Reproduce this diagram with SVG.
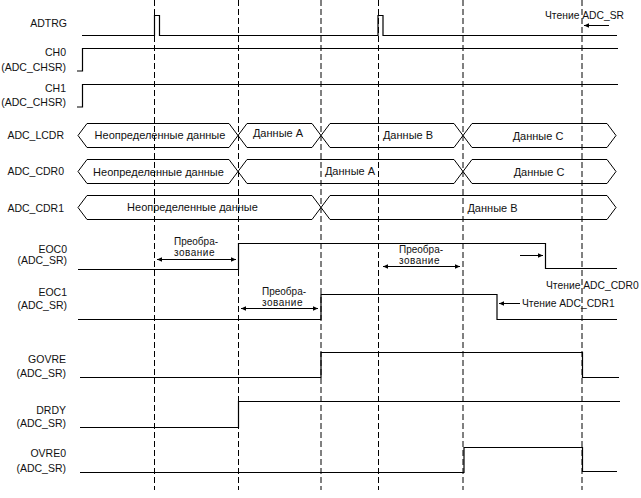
<svg xmlns="http://www.w3.org/2000/svg" width="641" height="498" viewBox="0 0 641 498">
<style>
text{font-family:"Liberation Sans",Arial,sans-serif;font-size:11px;fill:#111}
.lbl{text-anchor:end;font-size:10.5px}
.c{text-anchor:middle}
.ann{font-size:10px}
.rd{font-size:10.3px}
.sig{fill:none;stroke:#000;stroke-width:1.2}
.bus{fill:#fff;stroke:#000;stroke-width:1}
.dash{stroke:#000;stroke-width:1;stroke-dasharray:6 3}
.arr{stroke:#000;stroke-width:1;fill:none}
</style>
<defs>
<marker id="ah" markerWidth="6" markerHeight="6" refX="5" refY="3" orient="auto" markerUnits="userSpaceOnUse">
<path d="M0,0.8 L5,3 L0,5.2 Z" fill="#000"/>
</marker>
<marker id="as" markerWidth="6" markerHeight="6" refX="0" refY="3" orient="auto" markerUnits="userSpaceOnUse">
<path d="M5,0.8 L0,3 L5,5.2 Z" fill="#000"/>
</marker>
</defs>
<rect width="641" height="498" fill="#fff"/>

<g id="labels">
<text class="lbl" x="67" y="27">ADTRG</text>
<text class="lbl" x="66" y="56">CH0</text>
<text class="lbl" x="66" y="71">(ADC_CHSR)</text>
<text class="lbl" x="66" y="92">CH1</text>
<text class="lbl" x="66" y="106">(ADC_CHSR)</text>
<text class="lbl" x="64" y="139">ADC_LCDR</text>
<text class="lbl" x="64" y="175">ADC_CDR0</text>
<text class="lbl" x="64" y="212">ADC_CDR1</text>
<text class="lbl" x="67" y="253">EOC0</text>
<text class="lbl" x="67" y="264">(ADC_SR)</text>
<text class="lbl" x="67" y="296">EOC1</text>
<text class="lbl" x="67" y="309">(ADC_SR)</text>
<text class="lbl" x="66" y="363">GOVRE</text>
<text class="lbl" x="66" y="377">(ADC_SR)</text>
<text class="lbl" x="66" y="414">DRDY</text>
<text class="lbl" x="66" y="427">(ADC_SR)</text>
<text class="lbl" x="66" y="457">OVRE0</text>
<text class="lbl" x="66" y="472">(ADC_SR)</text>
</g>

<g id="bus-lcdr">
<path class="bus" d="M78,135.5 L87,123.5 L229,123.5 L238,135.5 L229,147.5 L87,147.5 Z"/>
<path class="bus" d="M238,135.5 L247,123.5 L312,123.5 L321,135.5 L312,147.5 L247,147.5 Z"/>
<path class="bus" d="M321,135.5 L330,123.5 L454,123.5 L463,135.5 L454,147.5 L330,147.5 Z"/>
<path class="bus" d="M463,135.5 L472,123.5 L607,123.5 L616,135.5 L607,147.5 L472,147.5 Z"/>
<text class="c" x="160" y="139">Неопределенные данные</text>
<text class="c" x="278" y="137">Данные A</text>
<text class="c" x="408" y="139">Данные B</text>
<text class="c" x="538" y="140">Данные C</text>
</g>

<g id="bus-cdr0">
<path class="bus" d="M78,171.5 L87,159.5 L229,159.5 L238,171.5 L229,183.5 L87,183.5 Z"/>
<path class="bus" d="M238,171.5 L247,159.5 L454,159.5 L463,171.5 L454,183.5 L247,183.5 Z"/>
<path class="bus" d="M463,171.5 L472,159.5 L607,159.5 L616,171.5 L607,183.5 L472,183.5 Z"/>
<text class="c" x="158.5" y="176">Неопределенные данные</text>
<text class="c" x="350" y="175">Данные A</text>
<text class="c" x="539" y="176">Данные C</text>
</g>

<g id="bus-cdr1">
<path class="bus" d="M78,207.5 L87,195.5 L312,195.5 L321,207.5 L312,219.5 L87,219.5 Z"/>
<path class="bus" d="M321,207.5 L330,195.5 L607,195.5 L616,207.5 L607,219.5 L330,219.5 Z"/>
<text class="c" x="192.5" y="211">Неопределенные данные</text>
<text class="c" x="492.5" y="212">Данные B</text>
</g>

<g id="signals">
<path id="adtrg" class="sig" d="M82,35.5 H154.5 V15.5 H159.5 V35.5 H378 V15.5 H383 V35.5 H617"/>
<path id="ch0" class="sig" d="M77,71 H82.5 V48.5 H618"/>
<path id="ch1" class="sig" d="M77,107 H82.5 V84.5 H618"/>
<path id="eoc0" class="sig" d="M78,269.5 H238.5 V243.5 H545.5 V268.5 H617"/>
<path id="eoc1" class="sig" d="M78,319.5 H321 V294.5 H497 V319.5 H617"/>
<path id="govre" class="sig" d="M80,377.5 H321 V352.5 H582.5 V377.5 H619"/>
<path id="drdy" class="sig" d="M80,427.5 H238.5 V401.5 H620"/>
<path id="ovre0" class="sig" d="M80,472.5 H464 V447.5 H582.5 V471.5 H617"/>
</g>

<g id="connectors">
<line class="dash" x1="154.5" y1="0" x2="154.5" y2="490"/>
<line class="dash" x1="238.5" y1="0" x2="238.5" y2="490"/>
<line class="dash" x1="321" y1="0" x2="321" y2="490"/>
<line class="dash" x1="378.5" y1="0" x2="378.5" y2="490"/>
<line class="dash" x1="463" y1="0" x2="463" y2="490"/>
<line class="dash" x1="582" y1="0" x2="582" y2="490"/>

<line class="arr" x1="157" y1="259.5" x2="236" y2="259.5" marker-start="url(#as)" marker-end="url(#ah)"/>
<line class="arr" x1="383" y1="266.5" x2="460" y2="266.5" marker-start="url(#as)" marker-end="url(#ah)"/>
<line class="arr" x1="241" y1="308.5" x2="318" y2="308.5" marker-start="url(#as)" marker-end="url(#ah)"/>
<line class="arr" x1="520" y1="255.5" x2="543" y2="255.5" marker-end="url(#ah)"/>
<line class="arr" x1="520" y1="303.5" x2="499" y2="303.5" marker-end="url(#ah)"/>
<line class="arr" x1="609" y1="25.5" x2="584" y2="25.5" marker-end="url(#ah)"/>
</g>

<g id="annotations">
<text class="ann" x="174" y="245">Преобра-</text>
<text class="ann" x="174" y="256" letter-spacing="0.5">зование</text>
<text class="ann" x="399" y="253">Преобра-</text>
<text class="ann" x="399" y="264" letter-spacing="0.5">зование</text>
<text class="ann" x="262" y="295">Преобра-</text>
<text class="ann" x="262" y="306" letter-spacing="0.5">зование</text>
<text class="rd" x="545" y="19">Чтение ADC_SR</text>
<text class="rd" x="546" y="289">Чтение ADC_CDR0</text>
<text class="rd" x="522" y="307">Чтение ADC_CDR1</text>
</g>
</svg>
